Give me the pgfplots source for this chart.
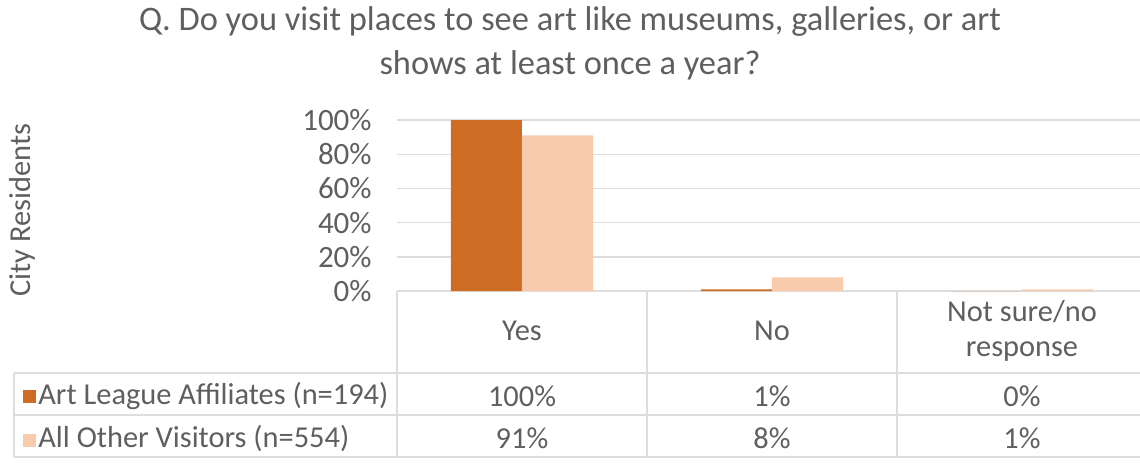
\documentclass[border=0pt]{standalone}
\usepackage{pgfplots}
\pgfplotsset{compat=1.18}
\usepackage{fontspec}
\setmainfont{Carlito}
\definecolor{darkor}{HTML}{CD6C22}
\definecolor{lightor}{HTML}{F8CBAD}
\definecolor{txt}{HTML}{5F5F5F}
\definecolor{gridc}{HTML}{DDDDDD}
\begin{document}
\begin{tikzpicture}[font=\fontsize{15.2}{17.5}\selectfont, text=txt]
\useasboundingbox (-198.5pt,-85.5pt) rectangle (371.5pt,145.5pt);
\begin{axis}[
  at={(0,0)}, anchor=south west,
  width=371.5pt, height=85.5pt, scale only axis,
  xmin=-0.5, xmax=2.472, ymin=0, ymax=100,
  ybar=0pt, bar width=35.5pt,
  ytick={0,20,40,60,80,100},
  yticklabel={\pgfmathprintnumber{\tick}\%},
  /pgf/number format/assume math mode=true,
  xtick=\empty,
  axis line style={draw=none},
  ymajorgrids, grid style={gridc, line width=0.7pt},
  major tick length=0pt,
  yticklabel style={anchor=east, inner sep=0pt, xshift=-12.5pt, font=\fontsize{15.5}{17.5}\selectfont, text=txt},
  clip=false,
]
\addplot[fill=darkor, draw=none] coordinates {(0,100) (1,1) (2,0)};
\addplot[fill=lightor, draw=none] coordinates {(0,91) (1,8) (2,1)};
\end{axis}
% table grid
\draw[gridc, line width=0.7pt] (0,0) -- (0,-83pt);
\draw[gridc, line width=0.7pt] (125pt,0) -- (125pt,-83pt);
\draw[gridc, line width=0.7pt] (250pt,0) -- (250pt,-83pt);
\draw[gridc, line width=0.7pt] (-191.5pt,-41pt) -- (-191.5pt,-83pt);
\draw[gridc, line width=0.7pt] (-191.5pt,-41pt) -- (371.5pt,-41pt);
\draw[gridc, line width=0.7pt] (-191.5pt,-62pt) -- (371.5pt,-62pt);
\draw[gridc, line width=0.7pt] (-191.5pt,-83pt) -- (371.5pt,-83pt);
% header
\node at (62.5pt,-20pt) {Yes};
\node at (187.5pt,-20pt) {No};
\node[align=center] at (312.5pt,-20pt) {Not sure/no\\response};
% rows
\fill[darkor] (-187pt,-56pt) rectangle ++(6.5pt,6.5pt);
\fill[lightor] (-187pt,-77.75pt) rectangle ++(6.5pt,6.5pt);
\node[anchor=west, inner sep=0pt] at (-179.5pt,-52.5pt) {Art League Affiliates (n=194)};
\node[anchor=west, inner sep=0pt] at (-179.5pt,-73.5pt) {All Other Visitors (n=554)};
\node at (62.5pt,-52.5pt) {100\%};
\node at (187.5pt,-52.5pt) {1\%};
\node at (312.5pt,-52.5pt) {0\%};
\node at (62.5pt,-73.5pt) {91\%};
\node at (187.5pt,-73.5pt) {8\%};
\node at (312.5pt,-73.5pt) {1\%};
% y label
\node[rotate=90] at (-187.5pt,40.5pt) {City Residents};
% title
\node[font=\fontsize{17.2}{20}\selectfont] at (86.5pt,134.5pt) {Q. Do you visit places to see art like museums, galleries, or art};
\node[font=\fontsize{17.2}{20}\selectfont] at (86.5pt,113pt) {shows at least once a year?};
\end{tikzpicture}
\end{document}
